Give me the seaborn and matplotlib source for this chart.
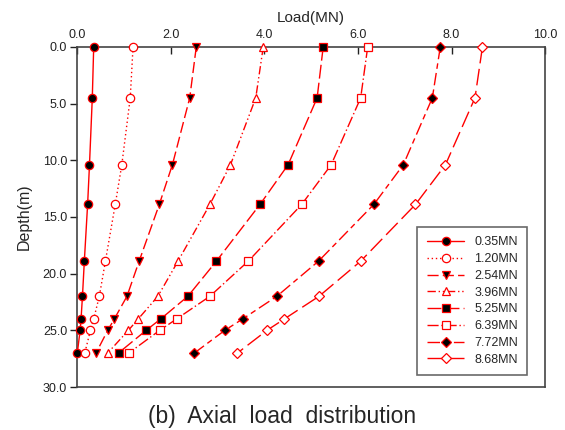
import pandas as pd
import seaborn as sns
import matplotlib.pyplot as plt

# depth of the gauges (m) and measured axial load (MN) per load step
depth = [0.0, 4.5, 10.4, 13.9, 18.9, 22.0, 24.0, 25.0, 27.0]
load_035 = [0.36, 0.33, 0.27, 0.23, 0.16, 0.12, 0.09, 0.07, 0.01]
load_120 = [1.20, 1.14, 0.96, 0.82, 0.61, 0.48, 0.36, 0.29, 0.17]
load_254 = [2.55, 2.41, 2.04, 1.76, 1.33, 1.07, 0.80, 0.66, 0.41]
load_396 = [3.98, 3.82, 3.28, 2.84, 2.16, 1.73, 1.31, 1.10, 0.66]
load_525 = [5.26, 5.13, 4.51, 3.91, 2.98, 2.37, 1.79, 1.48, 0.89]
load_639 = [6.21, 6.06, 5.43, 4.80, 3.66, 2.84, 2.13, 1.77, 1.11]
load_772 = [7.76, 7.59, 6.97, 6.34, 5.16, 4.27, 3.54, 3.16, 2.51]
load_868 = [8.66, 8.50, 7.87, 7.23, 6.06, 5.17, 4.43, 4.06, 3.43]

labels = ['0.35MN', '1.20MN', '2.54MN', '3.96MN', '5.25MN', '6.39MN', '7.72MN', '8.68MN']
series = [load_035, load_120, load_254, load_396, load_525, load_639, load_772, load_868]

df = pd.concat([pd.DataFrame({'load': s, 'depth': depth, 'step': lab})
                for s, lab in zip(series, labels)], ignore_index=True)

# marker, filled?, linestyle
styles = [
    ('o', True, '-'),
    ('o', False, (0, (1, 2))),
    ('v', True, (0, (8, 3))),
    ('^', False, (0, (6, 2, 1, 2, 1, 2))),
    ('s', True, (0, (10, 3))),
    ('s', False, (0, (8, 2, 1, 2))),
    ('D', True, (0, (9, 3, 4, 3))),
    ('D', False, (0, (12, 4))),
]

sns.set_style('ticks')
plt.rcParams['font.family'] = ['Liberation Sans', 'DejaVu Sans']

fig = plt.figure(figsize=(5.65, 4.30), dpi=100)
ax = fig.add_axes([0.136, 0.100, 0.829, 0.791])

for lab, (mk, filled, ls) in zip(labels, styles):
    sub = df[df['step'] == lab]
    sns.lineplot(data=sub, x='load', y='depth', ax=ax, sort=False, estimator=None,
                 color='red', linewidth=1.0, linestyle=ls, marker=mk,
                 markersize=6 if mk != 'D' else 5.2,
                 markerfacecolor='black' if filled else 'white',
                 markeredgecolor='red', markeredgewidth=0.9, label=lab,
                 clip_on=False, zorder=3)

ax.set_xlim(0, 10)
ax.set_ylim(30, 0)
ax.set_xticks([0, 2, 4, 6, 8, 10])
ax.set_xticklabels(['0.0', '2.0', '4.0', '6.0', '8.0', '10.0'])
ax.set_yticks([0, 5, 10, 15, 20, 25, 30])
ax.set_yticklabels(['0.0', '5.0', '10.0', '15.0', '20.0', '25.0', '30.0'])
ax.xaxis.tick_top()
ax.xaxis.set_label_position('top')
ax.tick_params(axis='x', direction='in', length=5, width=1, pad=4, labelsize=9, colors='#222222')
ax.tick_params(axis='y', direction='out', length=5, width=1, pad=2, labelsize=9, colors='#222222')
for sp in ax.spines.values():
    sp.set_visible(True)
    sp.set_color('#444444')
    sp.set_linewidth(1.2)

ax.set_xlabel('Load(MN)', fontsize=11, labelpad=5)
ax.set_ylabel('Depth(m)', fontsize=11.5, labelpad=8)

leg = ax.legend(loc='lower right', bbox_to_anchor=(0.962, 0.035), borderaxespad=0,
                fontsize=9, frameon=True, fancybox=False, handlelength=3.0,
                handletextpad=0.8, labelspacing=0.38, borderpad=0.75)
leg.get_frame().set_edgecolor('#444444')
leg.get_frame().set_linewidth(1.2)

fig.text(0.4985, 0.032, '(b)  Axial  load  distribution', ha='center', va='center', fontsize=16.5)

fig.savefig('out.png', dpi=100)
